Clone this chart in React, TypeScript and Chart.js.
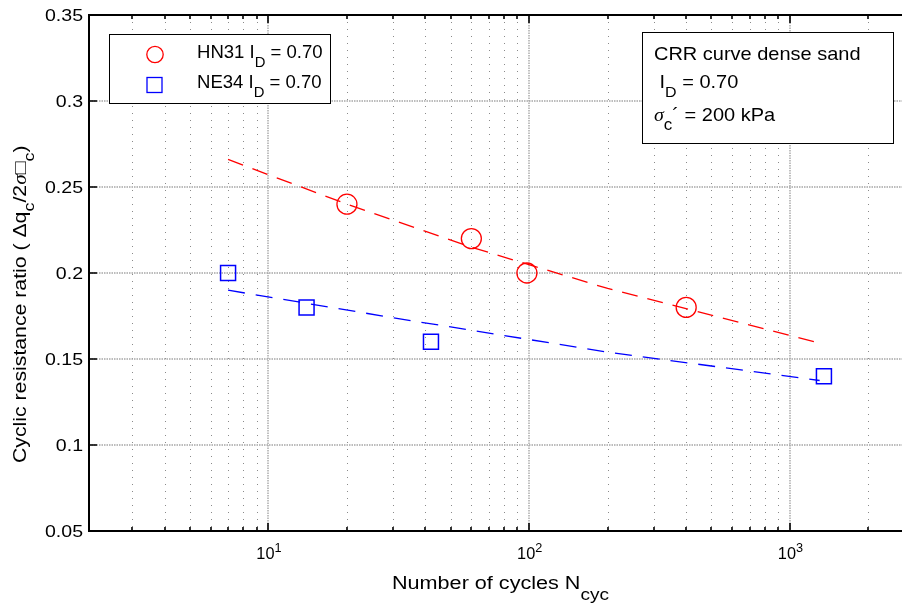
import React, { useEffect, useRef } from 'react';
import { Chart, registerables } from 'chart.js';

Chart.register(...registerables);

// ---- data ----
const hn31Cycles = [20, 60, 98, 400];
const hn31Crr = [0.24, 0.22, 0.2, 0.18];
const ne34Cycles = [7, 14, 42, 1350];
const ne34Crr = [0.2, 0.18, 0.16, 0.14];
const hn31FitCycles = [7, 20, 60, 200, 1320];
const hn31FitCrr = [0.266, 0.24, 0.215, 0.191, 0.159];
const ne34FitCycles = [7, 30, 200, 1300];
const ne34FitCrr = [0.19, 0.174, 0.154, 0.1375];

const yTickValues = [0.05, 0.1, 0.15, 0.2, 0.25, 0.3, 0.35];
const yTickLabels = ['0.05', '0.1', '0.15', '0.2', '0.25', '0.3', '0.35'];
const xMajorValues = [10, 100, 1000];
const xMajorBase = ['10', '10', '10'];
const xMajorExponents = ['1', '2', '3'];
const xMinorValues = [3, 4, 5, 6, 7, 8, 9, 20, 30, 40, 50, 60, 70, 80, 90, 200, 300, 400, 500, 600, 700, 800, 900, 2000];

const legendNames = ['HN31 I', 'NE34 I'];
const legendSubs = ['D', 'D'];
const legendTails = [' = 0.70', ' = 0.70'];

const X_MIN = 2.05;
const X_MAX = 2690;
const Y_MIN = 0.05;
const Y_MAX = 0.35;

const RED = '#ff0000';
const BLUE = '#0000ff';
const FONT = "'Liberation Sans', Arial, Helvetica, sans-serif";
const SERIF = "'Liberation Serif', 'DejaVu Serif', serif";

type Seg = { t: string; mode?: 'sub' | 'sup'; italic?: boolean; serif?: boolean };
type RichOpts = { subScale: number; subShift: number; supScale: number; supShift: number };
const defaultRich: RichOpts = { subScale: 0.8, subShift: 0.5, supScale: 0.75, supShift: -0.4 };

function segFont(seg: Seg, size: number, o: RichOpts) {
  const s = seg.mode === 'sub' ? size * o.subScale : seg.mode === 'sup' ? size * o.supScale : size;
  return `${seg.italic ? 'italic ' : ''}${s}px ${seg.serif ? SERIF : FONT}`;
}

function drawRich(
  ctx: CanvasRenderingContext2D,
  segs: Seg[],
  x: number,
  y: number,
  size: number,
  hs: number,
  align: 'left' | 'center' | 'right',
  o: RichOpts = defaultRich
) {
  ctx.save();
  ctx.textBaseline = 'alphabetic';
  ctx.textAlign = 'left';
  ctx.fillStyle = '#000';
  const widths: number[] = [];
  let total = 0;
  segs.forEach((seg) => {
    ctx.font = segFont(seg, size, o);
    const w = ctx.measureText(seg.t).width * hs;
    widths.push(w);
    total += w;
  });
  let cx = align === 'left' ? x : align === 'center' ? x - total / 2 : x - total;
  segs.forEach((seg, i) => {
    ctx.font = segFont(seg, size, o);
    const dy = seg.mode === 'sub' ? o.subShift * size : seg.mode === 'sup' ? o.supShift * size : 0;
    ctx.save();
    ctx.translate(cx, y + dy);
    ctx.scale(hs, 1);
    ctx.fillText(seg.t, 0, 0);
    ctx.restore();
    cx += widths[i];
  });
  ctx.restore();
}

const framePlugin = {
  id: 'matlabFrame',
  beforeDatasetsDraw(chart: any) {
    const { ctx, chartArea: a, scales } = chart;
    const x = scales.x;
    const y = scales.y;
    ctx.save();
    ctx.lineWidth = 1;
    // minor vertical grid
    ctx.strokeStyle = '#8a8a8a';
    ctx.setLineDash([1, 6]);
    xMinorValues.forEach((v) => {
      const px = Math.round(x.getPixelForValue(v)) + 0.5;
      if (px <= a.left + 1 || px >= a.right) return;
      ctx.beginPath();
      ctx.moveTo(px, a.top);
      ctx.lineTo(px, a.bottom);
      ctx.stroke();
    });
    // major grid
    ctx.strokeStyle = '#a6a6a6';
    ctx.lineWidth = 1.4;
    ctx.setLineDash([1.5, 1]);
    xMajorValues.forEach((v) => {
      const px = Math.round(x.getPixelForValue(v));
      ctx.beginPath();
      ctx.moveTo(px, a.top);
      ctx.lineTo(px, a.bottom);
      ctx.stroke();
    });
    yTickValues.forEach((v) => {
      if (v <= Y_MIN || v >= Y_MAX) return;
      const py = Math.round(y.getPixelForValue(v));
      ctx.beginPath();
      ctx.moveTo(a.left, py);
      ctx.lineTo(a.right, py);
      ctx.stroke();
    });
    ctx.restore();
  },
  afterDraw(chart: any) {
    const { ctx, chartArea: a, scales } = chart;
    const x = scales.x;
    const y = scales.y;
    ctx.save();
    ctx.setLineDash([]);
    ctx.strokeStyle = '#000';
    // axes lines
    ctx.lineWidth = 2;
    ctx.beginPath();
    ctx.moveTo(a.left, a.top - 1);
    ctx.lineTo(a.left, a.bottom + 1);
    ctx.moveTo(a.left - 1, a.top);
    ctx.lineTo(a.right, a.top);
    ctx.moveTo(a.left - 1, a.bottom);
    ctx.lineTo(a.right, a.bottom);
    ctx.stroke();
    // ticks
    ctx.lineWidth = 1.6;
    ctx.beginPath();
    xMinorValues.forEach((v) => {
      const px = Math.round(x.getPixelForValue(v));
      if (px <= a.left + 1 || px >= a.right) return;
      ctx.moveTo(px, a.bottom);
      ctx.lineTo(px, a.bottom - 4);
      ctx.moveTo(px, a.top);
      ctx.lineTo(px, a.top + 4);
    });
    xMajorValues.forEach((v) => {
      const px = Math.round(x.getPixelForValue(v));
      ctx.moveTo(px, a.bottom);
      ctx.lineTo(px, a.bottom - 8);
      ctx.moveTo(px, a.top);
      ctx.lineTo(px, a.top + 8);
    });
    yTickValues.forEach((v) => {
      const py = Math.round(y.getPixelForValue(v));
      ctx.moveTo(a.left, py);
      ctx.lineTo(a.left + 8, py);
    });
    ctx.stroke();

    // y tick labels
    yTickValues.forEach((v, i) => {
      const py = y.getPixelForValue(v);
      drawRich(ctx, [{ t: yTickLabels[i] }], a.left - 6, py + 6.2, 17, 1.15, 'right');
    });
    // x tick labels
    xMajorValues.forEach((v, i) => {
      const px = x.getPixelForValue(v);
      drawRich(
        ctx,
        [{ t: xMajorBase[i] }, { t: xMajorExponents[i], mode: 'sup' }],
        px + 0.5,
        559,
        16,
        1.02,
        'center',
        { subScale: 0.8, subShift: 0.5, supScale: 0.78, supShift: -0.42 }
      );
    });
    // x axis title
    drawRich(
      ctx,
      [{ t: 'Number of cycles N' }, { t: 'cyc', mode: 'sub' }],
      392,
      588.5,
      18,
      1.2,
      'left',
      { subScale: 0.88, subShift: 0.62, supScale: 0.75, supShift: -0.4 }
    );
    // y axis title (rotated)
    ctx.save();
    ctx.translate(26, 463);
    ctx.rotate(-Math.PI / 2);
    drawRich(
      ctx,
      [
        { t: 'Cyclic resistance ratio ( \u0394q' },
        { t: 'c', mode: 'sub' },
        { t: '/2' },
        { t: '\u03c3', italic: true, serif: true },
        { t: '\u25a1' },
        { t: 'c', mode: 'sub' },
        { t: ')' },
      ],
      0,
      0,
      18,
      1.18,
      'left',
      { subScale: 0.85, subShift: 0.45, supScale: 0.75, supShift: -0.4 }
    );
    ctx.restore();

    // legend box
    ctx.fillStyle = '#fff';
    ctx.strokeStyle = '#000';
    ctx.lineWidth = 1;
    ctx.fillRect(109.5, 34.5, 221, 69);
    ctx.strokeRect(109.5, 34.5, 221, 69);
    ctx.lineWidth = 1.3;
    ctx.strokeStyle = RED;
    ctx.beginPath();
    ctx.arc(155, 54.5, 8.2, 0, Math.PI * 2);
    ctx.stroke();
    ctx.strokeStyle = BLUE;
    ctx.strokeRect(147, 77.5, 15, 15);
    const legendRows = [57.5, 87.5];
    legendNames.forEach((name, i) => {
      drawRich(
        ctx,
        [{ t: name }, { t: legendSubs[i], mode: 'sub' }, { t: legendTails[i] }],
        197,
        legendRows[i],
        18,
        1.03,
        'left',
        { subScale: 0.8, subShift: 0.5, supScale: 0.75, supShift: -0.4 }
      );
    });

    // annotation box
    ctx.fillStyle = '#fff';
    ctx.strokeStyle = '#000';
    ctx.lineWidth = 1;
    ctx.fillRect(642.5, 32.5, 251, 111);
    ctx.strokeRect(642.5, 32.5, 251, 111);
    drawRich(ctx, [{ t: 'CRR curve dense sand' }], 654, 60, 18.5, 1.08, 'left');
    drawRich(
      ctx,
      [{ t: ' I' }, { t: 'D', mode: 'sub' }, { t: ' = 0.70' }],
      654,
      87.5,
      18.5,
      1.08,
      'left',
      { subScale: 0.8, subShift: 0.5, supScale: 0.75, supShift: -0.4 }
    );
    drawRich(
      ctx,
      [
        { t: '\u03c3', italic: true, serif: true },
        { t: 'c', mode: 'sub' },
        { t: '\u00b4' },
        { t: ' = 200 kPa' },
      ],
      654,
      120.5,
      18.5,
      1.08,
      'left',
      { subScale: 0.85, subShift: 0.5, supScale: 0.75, supShift: -0.4 }
    );
    ctx.restore();
  },
};

function pts(xs: number[], ys: number[]) {
  return xs.map((v, i) => ({ x: v, y: ys[i] }));
}

export default function App() {
  const ref = useRef<HTMLCanvasElement | null>(null);
  useEffect(() => {
    if (!ref.current) return;
    const chart = new Chart(ref.current, {
      type: 'scatter',
      data: {
        datasets: [
          {
            label: 'HN31 fit',
            data: pts(hn31FitCycles, hn31FitCrr),
            showLine: true,
            borderColor: RED,
            borderWidth: 1.3,
            borderDash: [16, 10],
            pointRadius: 0,
            tension: 0,
            fill: false,
          },
          {
            label: 'NE34 fit',
            data: pts(ne34FitCycles, ne34FitCrr),
            showLine: true,
            borderColor: BLUE,
            borderWidth: 1.3,
            borderDash: [17, 11],
            pointRadius: 0,
            tension: 0,
            fill: false,
          },
          {
            label: 'HN31 ID = 0.70',
            data: pts(hn31Cycles, hn31Crr),
            showLine: false,
            pointStyle: 'circle',
            pointRadius: 10,
            pointBorderColor: RED,
            pointBackgroundColor: 'rgba(0,0,0,0)',
            pointBorderWidth: 1.3,
          },
          {
            label: 'NE34 ID = 0.70',
            data: pts(ne34Cycles, ne34Crr),
            showLine: false,
            pointStyle: 'rect',
            pointRadius: 10.6,
            pointBorderColor: BLUE,
            pointBackgroundColor: 'rgba(0,0,0,0)',
            pointBorderWidth: 1.5,
          },
        ],
      },
      options: {
        responsive: false,
        animation: false,
        events: [],
        layout: { autoPadding: false, padding: { left: 89, top: 15, right: 0, bottom: 74 } },
        scales: {
          x: { type: 'logarithmic', min: X_MIN, max: X_MAX, display: false },
          y: { type: 'linear', min: Y_MIN, max: Y_MAX, display: false },
        },
        plugins: {
          legend: { display: false },
          tooltip: { enabled: false },
        },
      },
      plugins: [framePlugin],
    });
    return () => chart.destroy();
  }, []);
  return (
    <div style={{ position: 'absolute', left: 0, top: 0, width: 902, height: 605, background: '#fff' }}>
      <canvas ref={ref} width={902} height={605} />
    </div>
  );
}
